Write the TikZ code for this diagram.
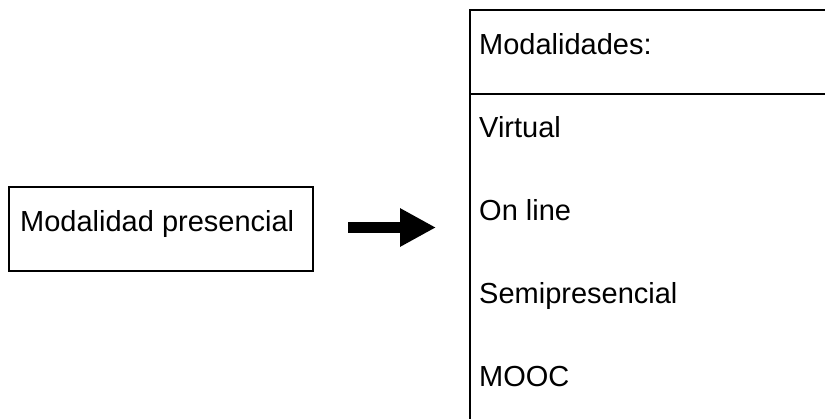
\documentclass[tikz,border=0pt]{standalone}
\usepackage{fontspec}
\setmainfont{Liberation Sans}
\usetikzlibrary{arrows.meta}
\begin{document}
\begin{tikzpicture}[x=1pt,y=-1pt,
  frame/.style={draw, line width=2.6pt},
  lbl/.style={anchor=base west, inner sep=0pt, font=\fontsize{29}{34}\selectfont},
  bigarrow/.style={line width=11pt, -{Triangle[length=36pt,width=36pt]}}]
\useasboundingbox (0,0) rectangle (825,418);
% left box
\node[frame, minimum width=304pt, minimum height=84pt, inner sep=0pt] (pres) at (161,229) {};
\node[lbl] (prestext) at (20,231) {Modalidad presencial};
% arrow
\coordinate (a1) at (348,227.5);
\coordinate (a2) at (436,227.5);
\draw[bigarrow] (a1) -- (a2);
% right box (open on the right and bottom)
\coordinate (rtr) at (835,10);
\coordinate (rtl) at (470,10);
\coordinate (rbl) at (470,428);
\coordinate (dl) at (470,94);
\coordinate (dr) at (835,94);
\draw[frame] (rtr) -- (rtl) -- (rbl);
\draw[frame] (dl) -- (dr);
% labels
\node[lbl] (head) at (479,54) {Modalidades:};
\node[lbl] (virt) at (479,137) {Virtual};
\node[lbl] (onl) at (479,220) {On line};
\node[lbl] (semi) at (479,303) {Semipresencial};
\node[lbl] (mooc) at (479,386) {MOOC};
\end{tikzpicture}
\end{document}
